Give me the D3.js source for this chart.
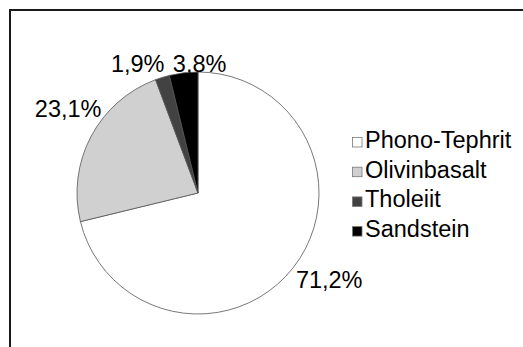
<!DOCTYPE html>
<html>
<head>
<meta charset="utf-8">
<script src="https://cdn.jsdelivr.net/npm/d3@7/dist/d3.min.js"></script>
<style>
  html, body { margin: 0; padding: 0; background: #fff; }
  svg { display: block; }
</style>
</head>
<body>
<script>
// Rock types and their shares (%)
const categories = ["Phono-Tephrit", "Olivinbasalt", "Tholeiit", "Sandstein"];
const shares = [71.2, 23.1, 1.9, 3.8];
const shareLabels = ["71,2%", "23,1%", "1,9%", "3,8%"];
const fills = ["#ffffff", "#d0d0d0", "#424242", "#000000"];

// Small label nudges so the narrow slices' labels don't collide
const labelNudge = [[5, 2], [12, -19], [-15, 3], [20, 8]];

const W = 523, H = 347;
const cx = 198, cy = 193, R = 121;
const fontFamily = "'Liberation Sans', Arial, sans-serif";
const fontSize = 23.5;

const svg = d3.select("body").append("svg")
  .attr("width", W).attr("height", H);

svg.append("rect").attr("width", W).attr("height", H).attr("fill", "#fff");

// Chart frame (left and top edges visible)
svg.append("path")
  .attr("d", `M10,${H + 5} V10 H${W + 5}`)
  .attr("fill", "none")
  .attr("stroke", "#1a1a1a")
  .attr("stroke-width", 2);

const data = categories.map((c, i) => ({ name: c, value: shares[i], label: shareLabels[i], fill: fills[i], i }));

const pie = d3.pie().sort(null).value(d => d.value).startAngle(0).endAngle(2 * Math.PI);
const arc = d3.arc().innerRadius(0).outerRadius(R);
const arcs = pie(data);

const g = svg.append("g").attr("transform", `translate(${cx},${cy})`);

g.selectAll("path.slice")
  .data(arcs)
  .join("path")
  .attr("class", "slice")
  .attr("d", arc)
  .attr("fill", d => d.data.fill)
  .attr("stroke", "#555")
  .attr("stroke-width", 0.8)
  .attr("stroke-linejoin", "round");

// Percentage labels just outside each slice
const labelR = R + 8;
g.selectAll("text.pct")
  .data(arcs)
  .join("text")
  .attr("class", "pct")
  .attr("font-family", fontFamily)
  .attr("font-size", fontSize)
  .attr("fill", "#000")
  .attr("text-anchor", "middle")
  .attr("x", d => {
    const a = (d.startAngle + d.endAngle) / 2;
    const halfW = d.data.label.length * 6.3;
    return Math.sin(a) * labelR + Math.sin(a) * halfW + labelNudge[d.data.i][0];
  })
  .attr("y", d => {
    const a = (d.startAngle + d.endAngle) / 2;
    return -Math.cos(a) * labelR - Math.cos(a) * 9 + labelNudge[d.data.i][1] + 8;
  })
  .text(d => d.data.label);

// Legend
const legend = svg.append("g").attr("transform", "translate(352,148)");
const rowH = 29.7;
const row = legend.selectAll("g.item")
  .data(data)
  .join("g")
  .attr("class", "item")
  .attr("transform", (d, i) => `translate(0,${i * rowH})`);

row.append("rect")
  .attr("x", 0.5).attr("y", -10.5)
  .attr("width", 9.5).attr("height", 9.5)
  .attr("fill", d => d.fill)
  .attr("stroke", "#777")
  .attr("stroke-width", 0.8);

row.append("text")
  .attr("x", 13)
  .attr("y", 0)
  .attr("font-family", fontFamily)
  .attr("font-size", fontSize)
  .attr("fill", "#000")
  .text(d => d.name);
</script>
</body>
</html>
